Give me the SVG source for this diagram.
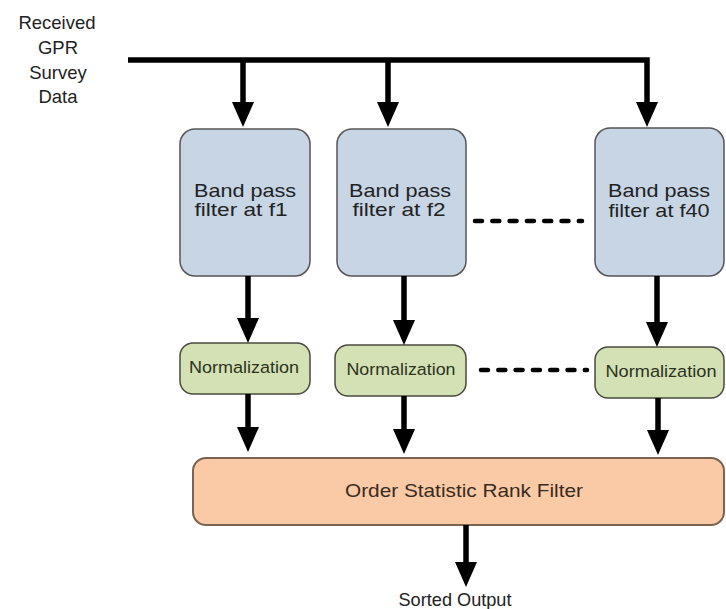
<svg xmlns="http://www.w3.org/2000/svg" width="726" height="609" viewBox="0 0 726 609">
  <style>
    text { font-family: "Liberation Sans", Arial, sans-serif; text-anchor: middle; }
    .label { font-size: 18.5px; fill: #222; }
    .bpf rect { fill: #c7d5e5; stroke: #555; stroke-width: 1.5; }
    .bpf text { font-size: 18.5px; fill: #222; }
    .norm rect { fill: #d4e1b5; stroke: #4a4a3e; stroke-width: 1.5; }
    .norm text { font-size: 16.3px; fill: #2b3320; }
    .orf rect { fill: #f9caa5; stroke: #7a6350; stroke-width: 2; }
    .orf text { font-size: 18.6px; fill: #3a2a1e; }
    .wire { fill: none; stroke: #000; stroke-width: 5.5; stroke-linejoin: miter; }
    .arrow { marker-end: url(#head); }
    .dots { fill: none; stroke: #000; stroke-width: 4.5; stroke-linecap: round; stroke-dasharray: 7 10.3; }
  </style>
  <defs>
    <marker id="head" viewBox="0 0 25 22" refX="5" refY="11" markerWidth="25" markerHeight="22" markerUnits="userSpaceOnUse" orient="auto">
      <path d="M0,0 L25,11 L0,22 Z" fill="#000"/>
    </marker>
  </defs>

  <!-- input label -->
  <g id="input">
    <text class="label" x="57" y="29">Received</text>
    <text class="label" x="58" y="54">GPR</text>
    <text class="label" x="58" y="79">Survey</text>
    <text class="label" x="58" y="103">Data</text>
  </g>

  <!-- band pass filters -->
  <g id="bpf1" class="bpf">
    <rect x="180" y="129" width="130" height="147" rx="15"/>
    <text x="245" y="197" textLength="102" lengthAdjust="spacingAndGlyphs">Band pass</text>
    <text x="241" y="216" textLength="93" lengthAdjust="spacingAndGlyphs">filter at f1</text>
  </g>
  <g id="bpf2" class="bpf">
    <rect x="337" y="129" width="129" height="147" rx="15"/>
    <text x="400" y="197" textLength="102" lengthAdjust="spacingAndGlyphs">Band pass</text>
    <text x="399" y="216" textLength="93" lengthAdjust="spacingAndGlyphs">filter at f2</text>
  </g>
  <g id="bpf40" class="bpf">
    <rect x="595" y="128" width="129" height="148" rx="15"/>
    <text x="659" y="197" textLength="102" lengthAdjust="spacingAndGlyphs">Band pass</text>
    <text x="659" y="217" textLength="101" lengthAdjust="spacingAndGlyphs">filter at f40</text>
  </g>

  <!-- normalization stages -->
  <g id="norm1" class="norm">
    <rect x="180" y="343" width="130" height="51" rx="13"/>
    <text x="244" y="373" textLength="110" lengthAdjust="spacingAndGlyphs">Normalization</text>
  </g>
  <g id="norm2" class="norm">
    <rect x="335" y="345" width="131" height="51" rx="13"/>
    <text x="401" y="375" textLength="109" lengthAdjust="spacingAndGlyphs">Normalization</text>
  </g>
  <g id="norm40" class="norm">
    <rect x="595" y="347" width="129" height="51" rx="13"/>
    <text x="661" y="377" textLength="111" lengthAdjust="spacingAndGlyphs">Normalization</text>
  </g>

  <!-- rank filter -->
  <g id="orf" class="orf">
    <rect x="193" y="458" width="531" height="67" rx="13"/>
    <text x="464" y="497" textLength="238" lengthAdjust="spacingAndGlyphs">Order Statistic Rank Filter</text>
  </g>

  <!-- output label -->
  <g id="output">
    <text class="label" x="455" y="606" textLength="113" lengthAdjust="spacingAndGlyphs">Sorted Output</text>
  </g>

  <!-- connectors -->
  <g id="connectors">
    <path class="wire arrow" d="M128,60 H647 V107"/>
    <path class="wire arrow" d="M243,60 V107"/>
    <path class="wire arrow" d="M388,60 V107"/>

    <path class="wire arrow" d="M248,276 V323"/>
    <path class="wire arrow" d="M404,276 V325"/>
    <path class="wire arrow" d="M657,276 V327"/>

    <path class="wire arrow" d="M248,394 V432"/>
    <path class="wire arrow" d="M404,396 V434"/>
    <path class="wire arrow" d="M658,398 V435"/>

    <path class="wire arrow" d="M466,525 V567"/>

    <path class="dots" d="M475,221 H582"/>
    <path class="dots" d="M481,370 H587"/>
  </g>
</svg>
